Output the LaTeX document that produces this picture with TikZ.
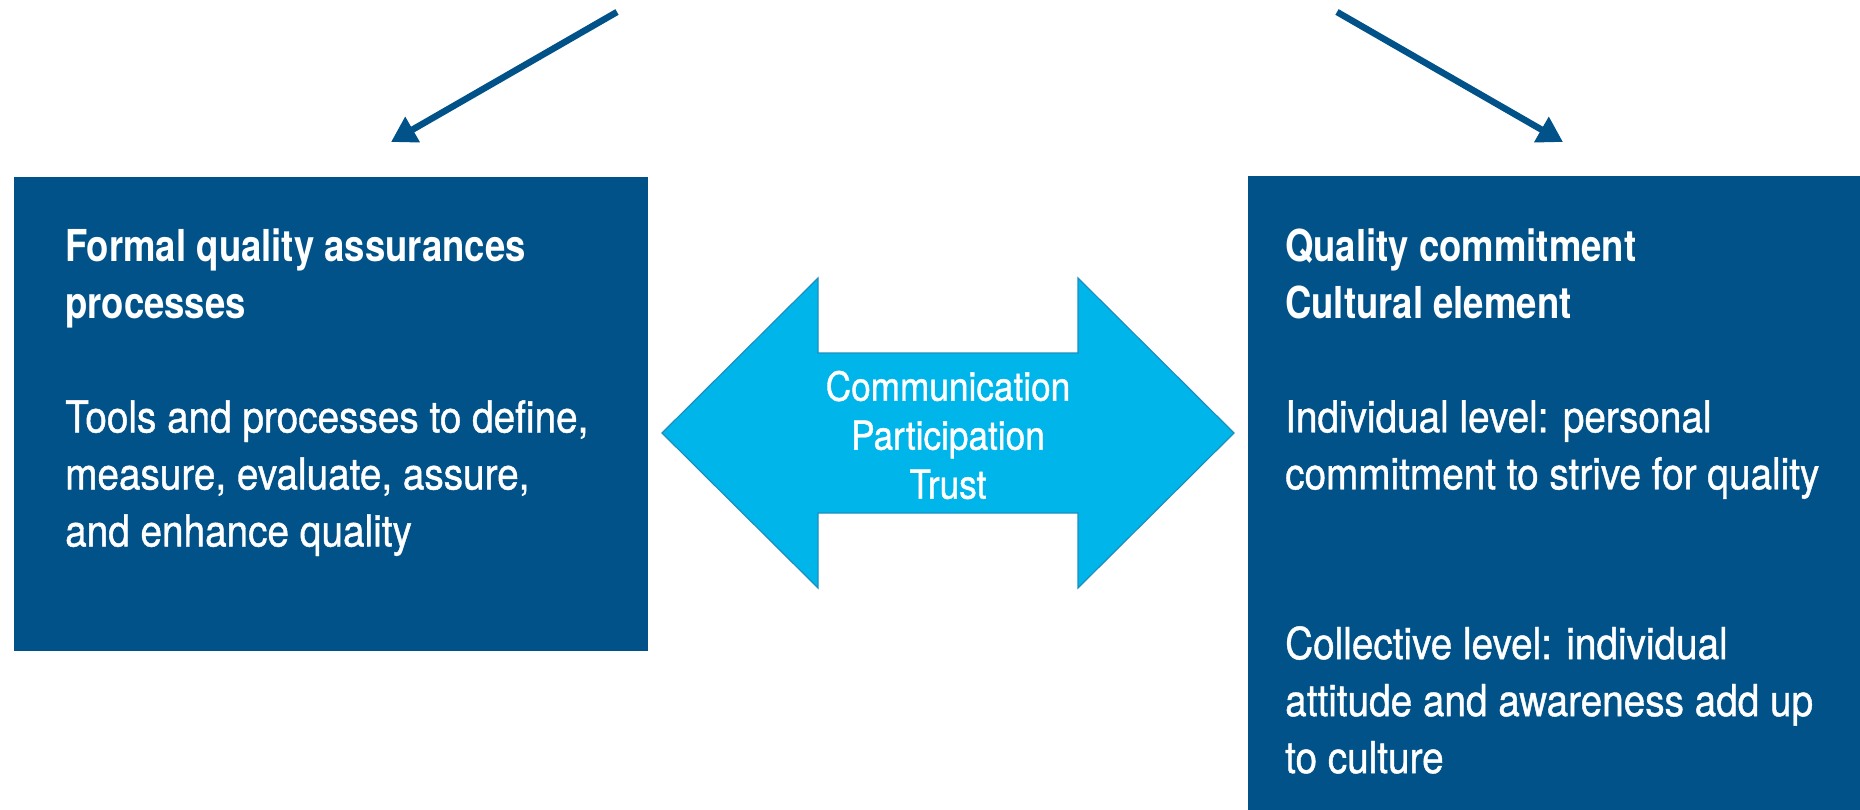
\documentclass[tikz,border=0pt]{standalone}
\usepackage{fontspec}
\setmainfont[FakeStretch=0.88, FakeBold=0.9,
             BoldFeatures={FakeStretch=0.83, FakeBold=0}]{TeX Gyre Heros}
\usepackage{tikz}
\usetikzlibrary{positioning, calc}
\usetikzlibrary{arrows.meta}
\definecolor{qablue}{HTML}{005288}
\definecolor{linkblue}{HTML}{00B5EA}
\definecolor{linkedge}{HTML}{1A8FBF}

\begin{document}
\begin{tikzpicture}[x=1pt, y=-1pt,
                    box/.style={fill=qablue,
                                draw=none,
                                anchor=north west,
                                inner sep=0pt},
                    txt/.style={text=white,
                                anchor=north west,
                                align=left,
                                inner sep=0pt,
                                font=\fontsize{44}{57}\selectfont},
                    head/.style={txt,
                                 font=\fontsize{44}{57}\selectfont\bfseries},
                    feed/.style={-{Triangle[length=25pt, width=28pt]},
                                 draw=qablue,
                                 line width=6.5pt}]
	\useasboundingbox (0,0) rectangle (1860,810);
	% the two blue boxes
	\node [box, minimum width=634pt, minimum height=474pt] (Formal) at (14,177) {};
	\node [box, minimum width=612pt, minimum height=634pt] (Culture) at (1248,176) {};
	
	\node [head] (FormalHead) at ($(Formal.north west)+(51,52)$) {Formal quality assurances\\processes};
	\node [txt] (FormalBody) at ($(Formal.north west)+(51,223)$) {Tools and processes to define,\\measure, evaluate, assure,\\and enhance quality};
	
	\node [head] (CultureHead) at ($(Culture.north west)+(37,53)$) {Quality commitment\\Cultural element};
	\node [txt] (Individual) at ($(Culture.north west)+(37,224)$) {Individual level: personal\\commitment to strive for quality};
	\node [txt] (Collective) at ($(Culture.north west)+(37,450)$) {Collective level: individual\\attitude and awareness add up\\to culture};
	
	% double arrow in between
	\node (Link) at (948,433) {};
	\draw [fill=linkblue, draw=linkedge, line width=1.2pt]
		($(Link)+(-286,0)$) -- ($(Link)+(-130,-155)$) -- ($(Link)+(-130,-80)$)
		-- ($(Link)+(130,-80)$) -- ($(Link)+(130,-155)$) -- ($(Link)+(286,0)$)
		-- ($(Link)+(130,155)$) -- ($(Link)+(130,80)$) -- ($(Link)+(-130,80)$)
		-- ($(Link)+(-130,155)$) -- cycle;
	\node [text=white, align=center, inner sep=0pt,
	       font=\fontsize{40}{49}\selectfont] (Values) at ($(Link)+(0,2)$) {Communication\\Participation\\Trust};
	
	% arrows from the top
	\coordinate (FormalIn) at (617,12);
	\coordinate (CultureIn) at (1337,12);
	\draw [feed] (FormalIn) -- (391,142);
	\draw [feed] (CultureIn) -- (1563,142);
\end{tikzpicture}
\end{document}
